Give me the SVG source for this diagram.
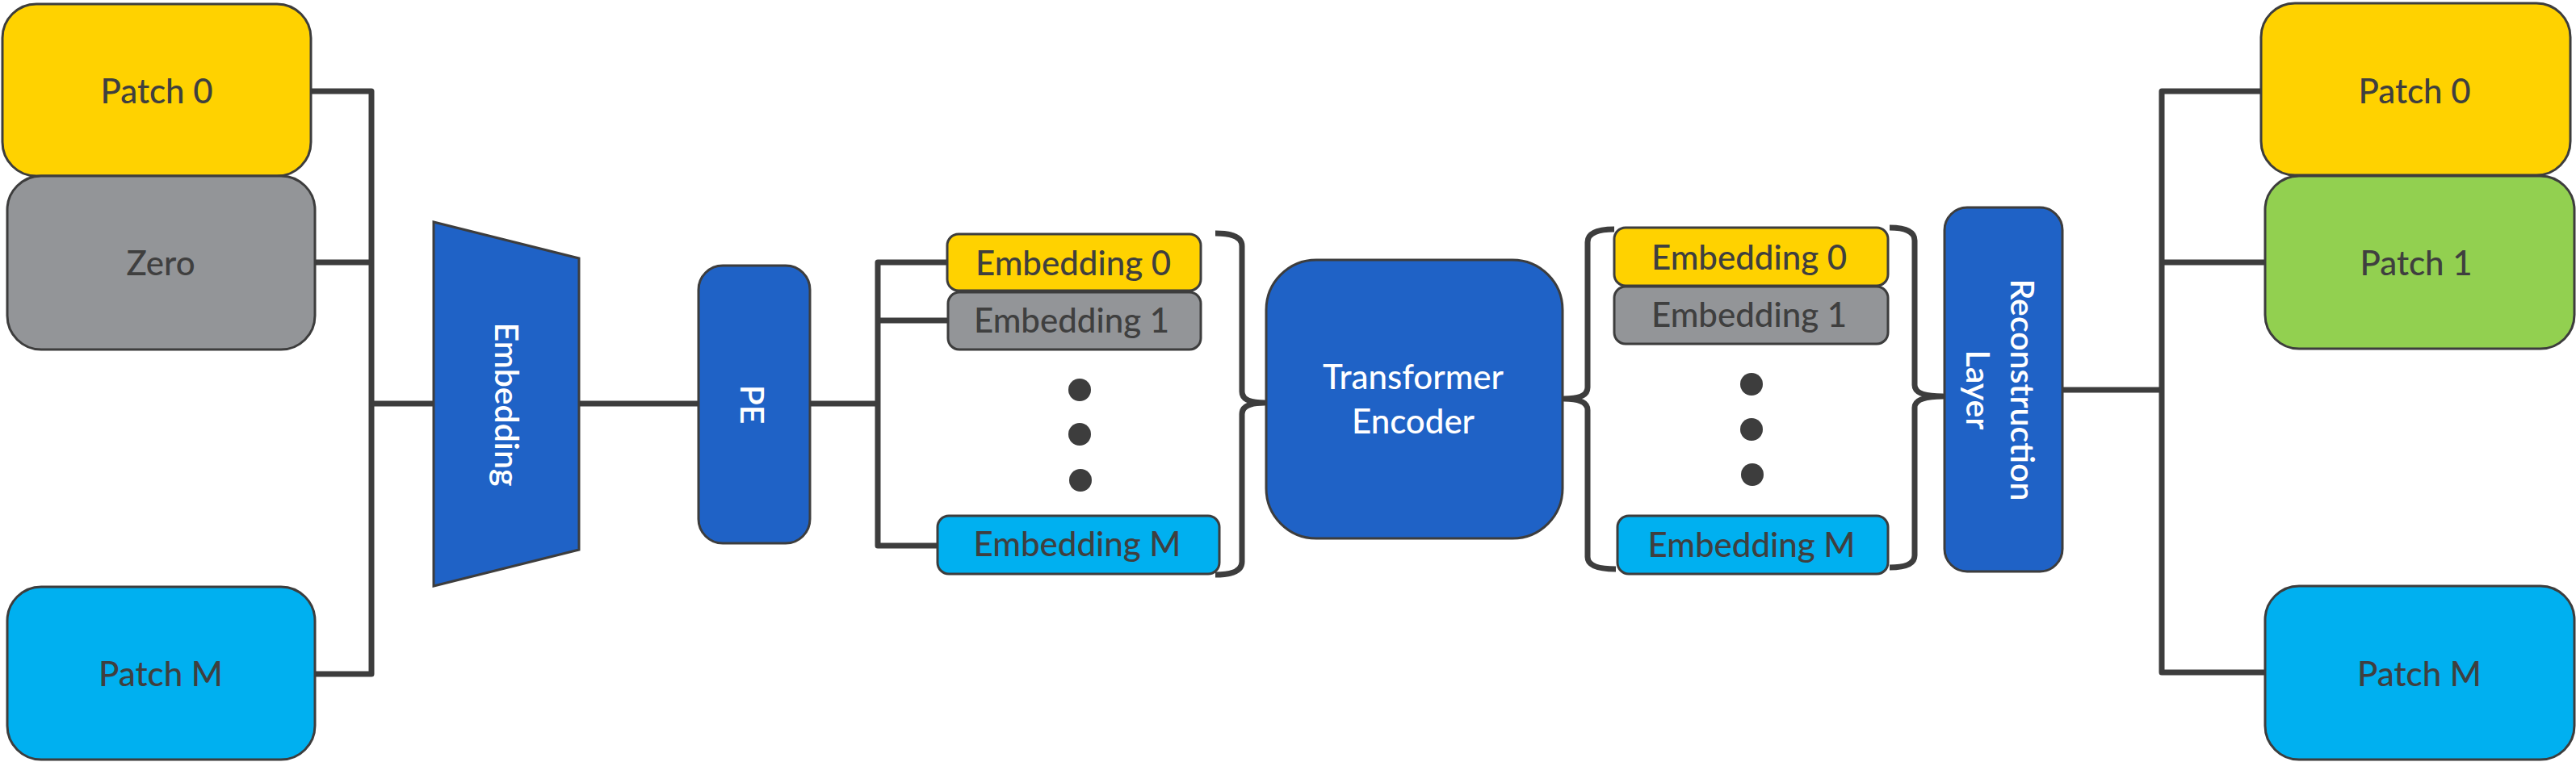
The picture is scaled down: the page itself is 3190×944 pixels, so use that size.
<svg xmlns="http://www.w3.org/2000/svg" width="3190" height="944" viewBox="0 0 3190 944">
<style>
.box{stroke:#3d3d3d;stroke-width:3}
.yellow{fill:#FFD200}
.gray{fill:#939598}
.green{fill:#92D050}
.cyan{fill:#00B0F0}
.blue{fill:#1F62C6}
.lbl{font-family:"Lato","Open Sans",sans-serif;font-size:42px;font-weight:500;fill:#3f3f3f;text-anchor:middle}
.wlbl{font-family:"Lato","Open Sans",sans-serif;font-size:42px;font-weight:500;fill:#ffffff;text-anchor:middle}
.vlbl{font-family:"Lato","Open Sans",sans-serif;font-size:41px;font-weight:600;fill:#ffffff;text-anchor:middle}
.conn{fill:none;stroke:#3d3d3d;stroke-width:7;stroke-linejoin:round}
.dot{fill:#3d3d3d}
</style>
<g id="connectors">
<path class="conn" d="M385,113 H460 V835 H390"/>
<path class="conn" d="M390,325 H460"/>
<path class="conn" d="M460,500 H537"/>
<path class="conn" d="M717,500 H865"/>
<path class="conn" d="M1003,500 H1087"/>
<path class="conn" d="M1173,325 H1087 V676 H1161"/>
<path class="conn" d="M1087,397 H1174"/>
<path class="conn" d="M1505,289 Q1538,289 1538,305 L1538,485 Q1538,499 1566,499 Q1538,499 1538,513 L1538,696 Q1538,712 1505,712"/>
<path class="conn" d="M1999,284 Q1966,284 1966,300 L1966,480 Q1966,494 1937,494 Q1966,494 1966,508 L1966,690 Q1966,705 2001,705"/>
<path class="conn" d="M2340,282 Q2371,282 2371,298 L2371,477 Q2371,491 2406,491 Q2371,491 2371,505 L2371,688 Q2371,703 2340,703"/>
<path class="conn" d="M2554,483 H2677"/>
<path class="conn" d="M2800,113 H2677 V833 H2805"/>
<path class="conn" d="M2677,325 H2805"/>
</g>
<g id="patch0-in">
<rect class="box yellow" x="3" y="5" width="382" height="213" rx="42"/>
<text class="lbl" x="194" y="128">Patch 0</text>
</g>
<g id="zero-in">
<rect class="box gray" x="9" y="218" width="381" height="215" rx="42"/>
<text class="lbl" x="199" y="341">Zero</text>
</g>
<g id="patchM-in">
<rect class="box cyan" x="9" y="727" width="381" height="214" rx="42"/>
<text class="lbl" x="199" y="850">Patch M</text>
</g>
<g id="embedding">
<polygon class="blue" stroke="#3d3d3d" stroke-width="3" points="537,275 717,320 717,681 537,726"/>
<text class="vlbl" transform="translate(613,501) rotate(90)">Embedding</text>
</g>
<g id="pe">
<rect class="box blue" x="865" y="329" width="138" height="344" rx="30"/>
<text class="vlbl" transform="translate(917,501) rotate(90)">PE</text>
</g>
<g id="emb-in">
<rect class="box yellow" x="1173" y="290" width="314" height="70" rx="14"/>
<text class="lbl" x="1329" y="341">Embedding 0</text>
<rect class="box gray" x="1174" y="362" width="313" height="71" rx="14"/>
<text class="lbl" x="1327" y="412">Embedding 1</text>
<circle class="dot" cx="1337" cy="483" r="14"/>
<circle class="dot" cx="1337" cy="538" r="14"/>
<circle class="dot" cx="1338" cy="595" r="14"/>
<rect class="box cyan" x="1161" y="639" width="349" height="72" rx="14"/>
<text class="lbl" x="1334" y="689">Embedding M</text>
</g>
<g id="transformer">
<rect class="box blue" x="1568" y="322" width="367" height="345" rx="62"/>
<text class="wlbl" x="1750" y="482">Transformer</text>
<text class="wlbl" x="1750" y="537">Encoder</text>
</g>
<g id="emb-out">
<rect class="box yellow" x="1999" y="282" width="339" height="72" rx="14"/>
<text class="lbl" x="2166" y="334">Embedding 0</text>
<rect class="box gray" x="1999" y="355" width="339" height="71" rx="14"/>
<text class="lbl" x="2166" y="405">Embedding 1</text>
<circle class="dot" cx="2169" cy="476" r="14"/>
<circle class="dot" cx="2169" cy="532" r="14"/>
<circle class="dot" cx="2170" cy="588" r="14"/>
<rect class="box cyan" x="2003" y="639" width="335" height="72" rx="14"/>
<text class="lbl" x="2169" y="690">Embedding M</text>
</g>
<g id="reconstruction">
<rect class="box blue" x="2408" y="257" width="146" height="451" rx="28"/>
<text class="vlbl" transform="translate(2490,483) rotate(90)">Reconstruction</text>
<text class="vlbl" transform="translate(2435,483) rotate(90)">Layer</text>
</g>
<g id="patch0-out">
<rect class="box yellow" x="2800" y="4" width="383" height="213" rx="42"/>
<text class="lbl" x="2990" y="128">Patch 0</text>
</g>
<g id="patch1-out">
<rect class="box green" x="2805" y="218" width="383" height="214" rx="42"/>
<text class="lbl" x="2992" y="341">Patch 1</text>
</g>
<g id="patchM-out">
<rect class="box cyan" x="2805" y="726" width="383" height="215" rx="42"/>
<text class="lbl" x="2996" y="850">Patch M</text>
</g>
</svg>
